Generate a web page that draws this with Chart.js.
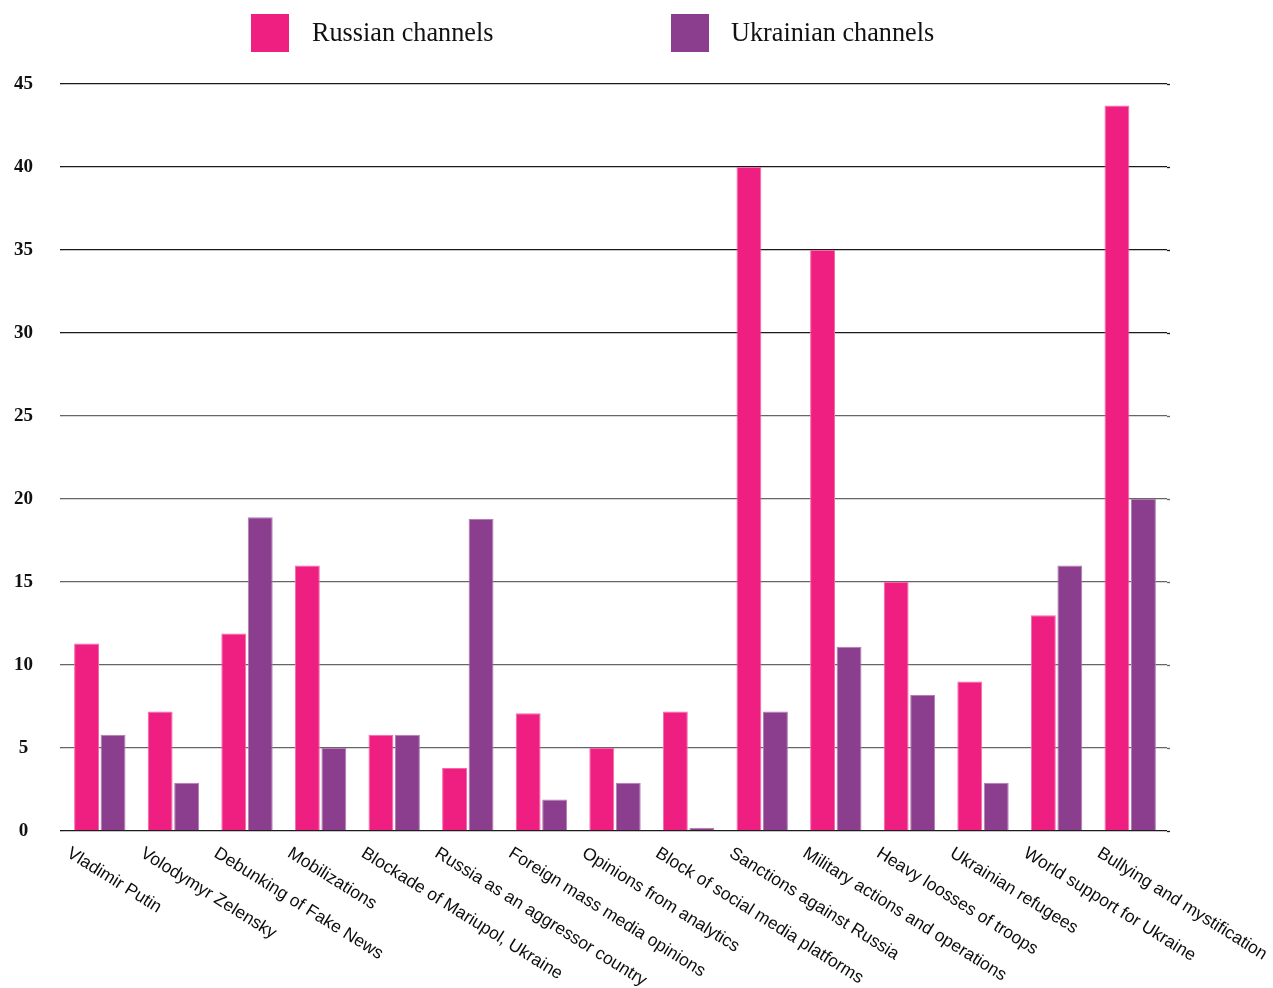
<!DOCTYPE html>
<html>
<head>
<meta charset="utf-8">
<script src="https://cdn.jsdelivr.net/npm/chart.js@4.4.1/dist/chart.umd.min.js"></script>
<style>
  html, body { margin: 0; padding: 0; background: #fff; }
  #wrap { position: relative; width: 1273px; height: 988px; }
  #legend { position: absolute; left: 0; top: 0; width: 100%; height: 60px; }
  .item { position: absolute; top: 14px; height: 38px; }
  .box { position: absolute; left: 0; top: 0; width: 38px; height: 38px; }
  .lbl {
    position: absolute; top: 2px; white-space: nowrap;
    font-family: "Liberation Serif", serif; font-size: 28px; color: #111;
    transform: scaleX(0.937); transform-origin: 0 0;
  }
</style>
</head>
<body>
<div id="wrap">
  <canvas id="chart" width="1273" height="988"></canvas>
  <div id="legend">
    <div class="item" style="left:251px"><div class="box" style="background:#ef1f82"></div><span class="lbl" style="left:61px">Russian channels</span></div>
    <div class="item" style="left:671px"><div class="box" style="background:#8b3e8e"></div><span class="lbl" style="left:60px">Ukrainian channels</span></div>
  </div>
</div>
<script>
// Categories and counts per channel group
const topics = [
  'Vladimir Putin', 'Volodymyr Zelensky', 'Debunking of Fake News', 'Mobilizations',
  'Blockade of Mariupol, Ukraine', 'Russia as an aggressor country', 'Foreign mass media opinions',
  'Opinions from analytics', 'Block of social media platforms', 'Sanctions against Russia',
  'Military actions and operations', 'Heavy loosses of troops', 'Ukrainian refugees',
  'World support for Ukraine', 'Bullying and mystification'
];
const russian   = [11.3, 7.2, 11.9, 16.0, 5.8, 3.8, 7.1, 5.0, 7.2, 40.0, 35.0, 15.0, 9.0, 13.0, 43.7];
const ukrainian = [5.8, 2.9, 18.9, 5.0, 5.8, 18.8, 1.9, 2.9, 0.2, 7.2, 11.1, 8.2, 2.9, 16.0, 20.0];
const yTicks = [0, 5, 10, 15, 20, 25, 30, 35, 40, 45];

// slanted category labels, reading downward to the right from each tick
const slantLabels = {
  id: 'slantLabels',
  afterDraw(chart) {
    const x = chart.scales.x;
    const ctx = chart.ctx;
    ctx.save();
    ctx.font = '17.5px "Liberation Sans", Arial, sans-serif';
    ctx.fillStyle = '#0d0d0d';
    ctx.textAlign = 'left';
    ctx.textBaseline = 'alphabetic';
    topics.forEach((t, i) => {
      const px = x.getPixelForTick(i);
      ctx.save();
      ctx.translate(px - 34, 856);
      ctx.rotate(32 * Math.PI / 180);
      ctx.fillText(t, 0, 0);
      ctx.restore();
    });
    ctx.restore();
  }
};

// stretch gridlines a few pixels past the right edge of the plot
const gridTail = {
  id: 'gridTail',
  beforeDatasetsDraw(chart) {
    const { ctx, chartArea, scales: { y } } = chart;
    ctx.save();
    yTicks.forEach(v => {
      const py = Math.round(y.getPixelForValue(v)) + 0.5;
      ctx.strokeStyle = (v >= 30 || v === 0) ? '#1a1a1a' : '#666';
      ctx.lineWidth = 1.3;
      ctx.beginPath();
      ctx.moveTo(chartArea.right, py);
      ctx.lineTo(chartArea.right + 3, py);
      ctx.stroke();
    });
    ctx.restore();
  }
};

new Chart(document.getElementById('chart'), {
  type: 'bar',
  data: {
    labels: topics,
    datasets: [
      { label: 'Russian channels', data: russian, backgroundColor: '#ef1f82', borderColor: '#f56aa8', borderWidth: 1 },
      { label: 'Ukrainian channels', data: ukrainian, backgroundColor: '#8b3e8e', borderColor: '#b27db3', borderWidth: 1 }
    ]
  },
  options: {
    responsive: false,
    animation: false,
    layout: { padding: { top: 84, right: 106, left: 0, bottom: 0 } },
    datasets: { bar: { categoryPercentage: 0.72, barPercentage: 0.94 } },
    plugins: { legend: { display: false }, tooltip: { enabled: false } },
    scales: {
      x: {
        ticks: { display: false },
        grid: { display: false },
        border: { display: false },
        afterFit(s) { s.height = 157; }
      },
      y: {
        min: 0, max: 45,
        afterBuildTicks(s) { s.ticks = yTicks.map(v => ({ value: v })); },
        afterFit(s) { s.width = 63; },
        border: { display: false },
        grid: {
          drawTicks: true,
          tickLength: 3,
          lineWidth: 1.3,
          color: c => (c.tick && (c.tick.value >= 30 || c.tick.value === 0)) ? '#1a1a1a' : '#666'
        },
        ticks: {
          crossAlign: 'center',
          padding: 27,
          color: '#111',
          font: { family: '"Liberation Serif", serif', size: 19, weight: 'bold' }
        }
      }
    }
  },
  plugins: [slantLabels, gridTail]
});
</script>
</body>
</html>
